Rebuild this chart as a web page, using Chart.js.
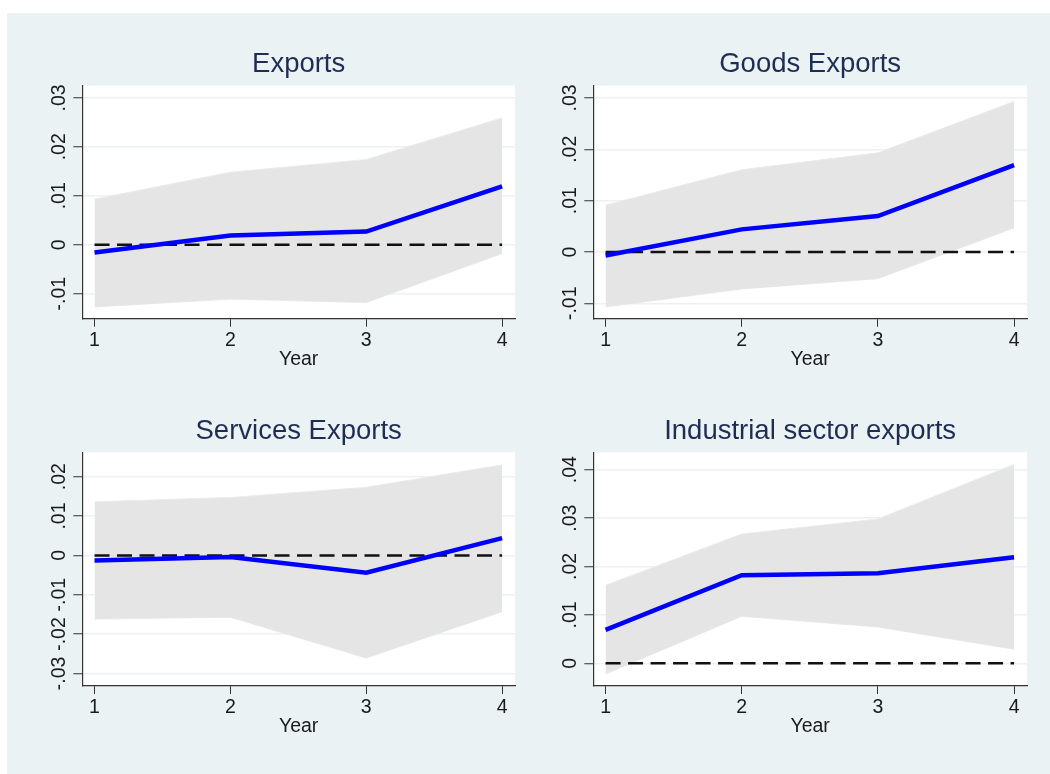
<!DOCTYPE html>
<html>
<head>
<meta charset="utf-8">
<script src="https://cdn.jsdelivr.net/npm/chart.js@4.4.1/dist/chart.umd.min.js"></script>
<style>
  body { margin: 0; background: #fff; width: 1050px; height: 774px; overflow: hidden; position: relative; }
  #bg { position: absolute; left: 7px; top: 13px; width: 1043px; height: 761px; background: #eaf2f3; }
  canvas { position: absolute; }
</style>
</head>
<body>
<div id="bg"></div>
<canvas id="c1" width="518" height="377" style="left:7px;top:13px"></canvas>
<canvas id="c2" width="525" height="377" style="left:525px;top:13px"></canvas>
<canvas id="c3" width="518" height="384" style="left:7px;top:390px"></canvas>
<canvas id="c4" width="525" height="384" style="left:525px;top:390px"></canvas>
<script>
// horizon
const years = [1, 2, 3, 4];
const zeroLine = [0, 0, 0, 0];

// Exports
const expIrf = [-0.0016, 0.0019, 0.0027, 0.0119];
const expUpper = [0.0093, 0.0148, 0.0174, 0.0259];
const expLower = [-0.0127, -0.0111, -0.0118, -0.0018];
const expTicks = [-0.01, 0, 0.01, 0.02, 0.03];
const expTickLabels = ['-.01', '0', '.01', '.02', '.03'];

// Goods Exports
const goodsIrf = [-0.0007, 0.0044, 0.0070, 0.0169];
const goodsUpper = [0.0091, 0.0160, 0.0193, 0.0293];
const goodsLower = [-0.0107, -0.0072, -0.0052, 0.0047];
const goodsTicks = [-0.01, 0, 0.01, 0.02, 0.03];
const goodsTickLabels = ['-.01', '0', '.01', '.02', '.03'];

// Services Exports
const servIrf = [-0.0013, -0.0004, -0.0044, 0.0044];
const servUpper = [0.0136, 0.0147, 0.0173, 0.0230];
const servLower = [-0.0162, -0.0157, -0.0261, -0.0143];
const servTicks = [-0.03, -0.02, -0.01, 0, 0.01, 0.02];
const servTickLabels = ['-.03', '-.02', '-.01', '0', '.01', '.02'];

// Industrial sector exports
const indIrf = [0.0069, 0.0182, 0.0186, 0.0219];
const indUpper = [0.0161, 0.0267, 0.0298, 0.0411];
const indLower = [-0.0022, 0.0097, 0.0075, 0.0029];
const indTicks = [0, 0.01, 0.02, 0.03, 0.04];
const indTickLabels = ['0', '.01', '.02', '.03', '.04'];

const FONT = '"Liberation Sans", Arial, Helvetica, sans-serif';
const pts = vals => years.map((x, i) => ({ x: x, y: vals[i] }));

// white plot region
const plotBg = {
  id: 'plotBg',
  beforeDraw(chart) {
    const a = chart.chartArea, ctx = chart.ctx;
    ctx.save();
    ctx.fillStyle = '#ffffff';
    ctx.fillRect(a.left, a.top, a.right - a.left, a.bottom - a.top);
    ctx.restore();
  }
};

// y tick labels turned 90 degrees, like the original
const rotatedYLabels = {
  id: 'rotatedYLabels',
  afterDraw(chart) {
    const s = chart.scales.y, ctx = chart.ctx;
    ctx.save();
    ctx.font = '19.5px ' + FONT;
    ctx.fillStyle = '#1a1a1a';
    ctx.textAlign = 'center';
    ctx.textBaseline = 'alphabetic';
    s.ticks.forEach(t => {
      ctx.save();
      ctx.translate(s.right - 17, s.getPixelForValue(t.value));
      ctx.rotate(-Math.PI / 2);
      ctx.fillText(t.label, 0, 0);
      ctx.restore();
    });
    ctx.restore();
  }
};

function makePanel(id, title, irf, upper, lower, yMin, yMax, yTicks, yLabels, box) {
  new Chart(document.getElementById(id), {
    type: 'line',
    data: {
      datasets: [
        { data: pts(irf), borderColor: '#0000ff', borderWidth: 4.5, pointRadius: 0, tension: 0, fill: false },
        { data: pts(zeroLine), borderColor: '#111111', borderWidth: 2.5, borderDash: [15, 7.5], pointRadius: 0, fill: false },
        { data: pts(upper), borderColor: '#ebebeb', borderWidth: 1, backgroundColor: '#e5e5e5', pointRadius: 0, tension: 0, fill: '+1' },
        { data: pts(lower), borderColor: '#ebebeb', borderWidth: 1, pointRadius: 0, tension: 0, fill: false }
      ]
    },
    options: {
      responsive: false,
      animation: false,
      layout: { padding: { left: 0, top: 0, right: box.right, bottom: 0 } },
      plugins: {
        legend: { display: false },
        tooltip: { enabled: false },
        title: {
          display: true, text: title, fullSize: false, color: '#1f2d55',
          font: { family: FONT, size: 27.5, weight: 'normal' },
          padding: { top: box.titleTop, bottom: 4.5 }
        }
      },
      scales: {
        x: {
          type: 'linear', min: 0.91, max: 4.095,
          afterBuildTicks: s => { s.ticks = years.map(v => ({ value: v })); },
          afterFit: s => { s.height = box.xHeight; },
          grid: { drawOnChartArea: false, tickLength: 8, tickColor: '#333333', tickWidth: 1 },
          border: { color: '#333333', width: 1.2 },
          ticks: { color: '#1a1a1a', font: { family: FONT, size: 19.5 }, padding: 2, maxRotation: 0, autoSkip: false },
          title: {
            display: true, text: 'Year', color: '#1a1a1a',
            font: { family: FONT, size: 19.5 },
            padding: { top: 0, bottom: box.yearBottom }
          }
        },
        y: {
          min: yMin, max: yMax,
          afterBuildTicks: s => { s.ticks = yTicks.map(v => ({ value: v })); },
          afterFit: s => { s.width = box.yWidth; },
          grid: { color: '#eaf2f3', lineWidth: 1.5, tickLength: 9, tickColor: '#333333', tickWidth: 1 },
          border: { color: '#333333', width: 1.2 },
          ticks: { display: false, callback: (v, i) => yLabels[i] }
        }
      }
    },
    plugins: [plotBg, rotatedYLabels]
  });
}

const topLeft = { right: 10, titleTop: 35.1, xHeight: 71.3, yearBottom: 18.9, yWidth: 75.3 };
const topRight = { right: 23, titleTop: 35.1, xHeight: 71.3, yearBottom: 18.9, yWidth: 68.3 };
const botLeft = { right: 10, titleTop: 24.8, xHeight: 88, yearBottom: 35.6, yWidth: 75.3 };
const botRight = { right: 23, titleTop: 24.8, xHeight: 88, yearBottom: 35.6, yWidth: 68.3 };

makePanel('c1', 'Exports', expIrf, expUpper, expLower, -0.0151, 0.0325, expTicks, expTickLabels, topLeft);
makePanel('c2', 'Goods Exports', goodsIrf, goodsUpper, goodsLower, -0.0130, 0.0324, goodsTicks, goodsTickLabels, topRight);
makePanel('c3', 'Services Exports', servIrf, servUpper, servLower, -0.0332, 0.0262, servTicks, servTickLabels, botLeft);
makePanel('c4', 'Industrial sector exports', indIrf, indUpper, indLower, -0.0047, 0.0436, indTicks, indTickLabels, botRight);
</script>
</body>
</html>
